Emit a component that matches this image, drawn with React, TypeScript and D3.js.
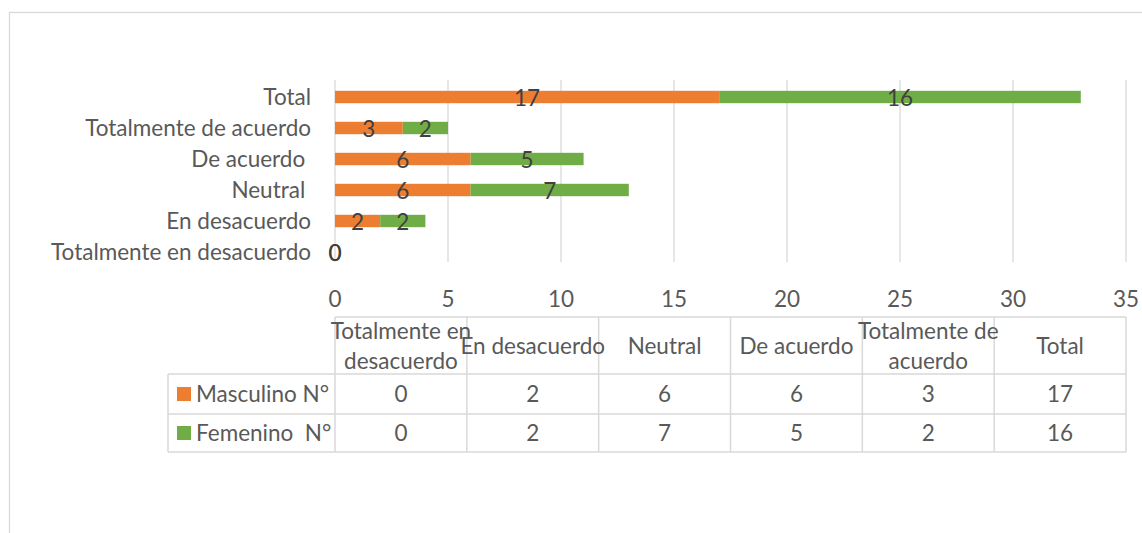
import React from "react";
import * as d3 from "d3";

// category names as typed in the source sheet (two carry a trailing space)
const categories = [
  "Totalmente en desacuerdo",
  "En desacuerdo",
  "Neutral ",
  "De acuerdo ",
  "Totalmente de acuerdo",
  "Total",
];
// header labels in the data table (line breaks as in the picture)
const headerLines = [
  ["Totalmente en", "desacuerdo"],
  ["En desacuerdo"],
  ["Neutral"],
  ["De acuerdo"],
  ["Totalmente de", "acuerdo"],
  ["Total"],
];
const masculino = [0, 2, 6, 6, 3, 17];
const femenino = [0, 2, 7, 5, 2, 16];
const seriesNames = ["Masculino N°", "Femenino  N°"];
const seriesColors = ["#ED7D31", "#70AD47"];
const xTicks = [0, 5, 10, 15, 20, 25, 30, 35];

const W = 1142;
const H = 533;
const FONT = "Lato, 'Open Sans', sans-serif";
const FS = 22.5;
const TEXT = "#595959";
const GRID = "#d9d9d9";

export default function App() {
  const x = d3.scaleLinear().domain([0, 35]).range([335, 1126]);
  // top row is "Total", bottom is "Totalmente en desacuerdo"
  const y = d3
    .scaleBand<string>()
    .domain([...categories].reverse())
    .range([81.5, 267.5])
    .paddingInner(0.6)
    .paddingOuter(0.3);

  const rows = categories.map((c, i) => ({ cat: c, m: masculino[i], f: femenino[i] }));
  const stack = d3.stack<any>().keys(["m", "f"])(rows);

  const colW = (x(35) - x(0)) / categories.length;
  const tableTop = 317;
  const headerBottom = 374;
  const row1Bottom = 414;
  const row2Bottom = 452;
  const legendLeft = 168;
  const bh = y.bandwidth();

  return (
    <svg
      width={W}
      height={H}
      style={{ position: "absolute", left: 0, top: 0, background: "#fff" }}
      fontFamily={FONT}
    >
      <rect x={9.5} y={12.5} width={W + 20} height={H + 20} fill="#fff" stroke={GRID} strokeWidth={1.3} />

      {/* gridlines */}
      {xTicks.map((t) => (
        <line key={t} x1={x(t)} x2={x(t)} y1={80} y2={262} stroke={GRID} strokeWidth={1.3} />
      ))}

      {/* bars */}
      {stack.map((s, si) =>
        s.map((d, i) => {
          const cat = rows[i].cat;
          const w = x(d[1]) - x(d[0]);
          return (
            <rect
              key={`${si}-${i}`}
              x={x(d[0])}
              y={y(cat)!}
              width={w}
              height={bh}
              fill={seriesColors[si]}
            />
          );
        })
      )}

      {/* data labels */}
      {stack.map((s, si) =>
        s.map((d, i) => {
          const cat = rows[i].cat;
          return (
            <text
              key={`l-${si}-${i}`}
              x={(x(d[0]) + x(d[1])) / 2}
              y={y(cat)! + bh / 2 + 1}
              dy="0.36em"
              textAnchor="middle"
              fontSize={FS}
              fill="#404040"
            >
              {d[1] - d[0]}
            </text>
          );
        })
      )}

      {/* category labels */}
      {categories.map((c) => (
        <text
          key={c}
          x={311}
          y={y(c)! + bh / 2}
          dy="0.36em"
          textAnchor="end"
          fontSize={FS}
          fill={TEXT}
          style={{ whiteSpace: "pre" }}
        >
          {c}
        </text>
      ))}

      {/* x tick labels */}
      {xTicks.map((t) => (
        <text key={t} x={x(t)} y={299} dy="0.36em" textAnchor="middle" fontSize={FS} fill={TEXT}>
          {t}
        </text>
      ))}

      {/* data table */}
      <g stroke={GRID} strokeWidth={1.5} fill="none">
        <line x1={x(0)} x2={x(35)} y1={tableTop} y2={tableTop} />
        <line x1={legendLeft} x2={x(35)} y1={headerBottom} y2={headerBottom} />
        <line x1={legendLeft} x2={x(35)} y1={row1Bottom} y2={row1Bottom} />
        <line x1={legendLeft} x2={x(35)} y1={row2Bottom} y2={row2Bottom} />
        <line x1={legendLeft} x2={legendLeft} y1={headerBottom} y2={row2Bottom} />
        {d3.range(categories.length + 1).map((k) => (
          <line key={k} x1={x(0) + k * colW} x2={x(0) + k * colW} y1={tableTop} y2={row2Bottom} />
        ))}
      </g>

      {headerLines.map((lines, k) => {
        const cx = x(0) + (k + 0.5) * colW;
        const cy = (tableTop + headerBottom) / 2;
        const lh = 30;
        return (
          <text key={k} x={cx} textAnchor="middle" fontSize={FS} fill={TEXT}>
            {lines.map((ln, j) => (
              <tspan key={j} x={cx} y={cy + (j - (lines.length - 1) / 2) * lh} dy="0.36em">
                {ln}
              </tspan>
            ))}
          </text>
        );
      })}

      {[masculino, femenino].map((vals, r) => {
        const top = r === 0 ? headerBottom : row1Bottom;
        const bottom = r === 0 ? row1Bottom : row2Bottom;
        const cy = (top + bottom) / 2;
        return (
          <g key={r}>
            <rect x={177} y={cy - 7} width={14} height={14} fill={seriesColors[r]} />
            <text x={196} y={cy} dy="0.36em" fontSize={FS} fill={TEXT} style={{ whiteSpace: "pre" }}>
              {seriesNames[r]}
            </text>
            {vals.map((v, k) => (
              <text
                key={k}
                x={x(0) + (k + 0.5) * colW}
                y={cy}
                dy="0.36em"
                textAnchor="middle"
                fontSize={FS}
                fill={TEXT}
              >
                {v}
              </text>
            ))}
          </g>
        );
      })}
    </svg>
  );
}
